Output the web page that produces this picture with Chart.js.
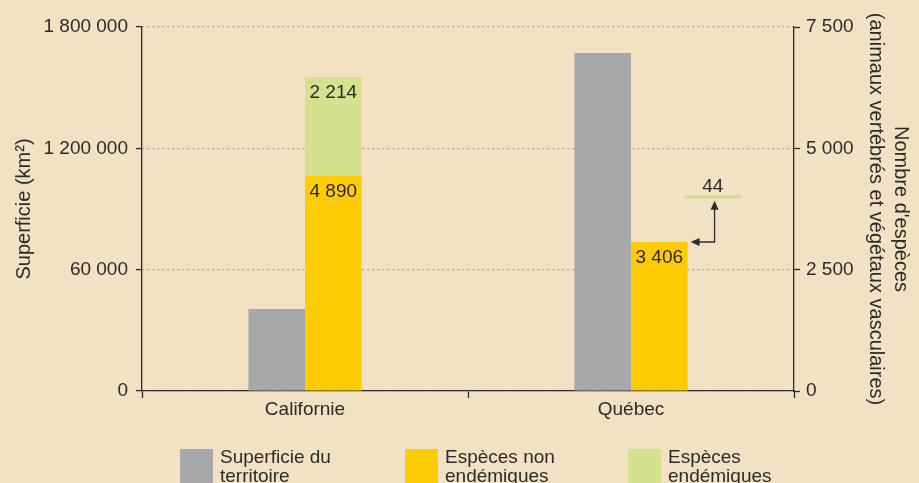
<!DOCTYPE html>
<html lang="fr">
<head>
<meta charset="utf-8">
<script src="https://cdn.jsdelivr.net/npm/chart.js@4"></script>
<style>
  html, body { margin: 0; padding: 0; background: #F2E1C2; }
  #wrap { width: 919px; height: 483px; position: relative; }
</style>
</head>
<body>
<div id="wrap"><canvas id="especesChart"></canvas></div>
<script>
// values (bar heights), labels as printed
const categories = ['Californie', 'Québec'];
const superficie = [405000, 1671000];
const nonEndemiques = [4430, 3070];
const endemiques = [2040, null];
const nonEndemiquesLabels = ['4 890', '3 406'];
const endemiquesLabels = ['2 214', '44'];
const quebecEndemiqueLevel = 4000;
const leftTickLabels = ['0', '60 000', '1 200 000', '1 800 000'];
const rightTickLabels = ['0', '2 500', '5 000', '7 500'];
const legendItems = [
    { color: '#A7A8AA', lines: ['Superficie du', 'territoire'] },
    { color: '#FFCB05', lines: ['Espèces non', 'endémiques'] },
    { color: '#D4E28E', lines: ['Espèces', 'endémiques'] }
];

const FONT = "'Liberation Sans', Arial, sans-serif";
const INK = '#2b2b2b';

Chart.defaults.font.family = FONT;
Chart.defaults.font.size = 19;
Chart.defaults.color = INK;

function arrowHead(ctx, x, y, dir) {
    // small filled triangle pointing "up" or "left"
    ctx.beginPath();
    if (dir === 'up') {
        ctx.moveTo(x, y);
        ctx.lineTo(x - 4, y + 9);
        ctx.lineTo(x + 4, y + 9);
    } else {
        ctx.moveTo(x, y);
        ctx.lineTo(x + 9, y - 4);
        ctx.lineTo(x + 9, y + 4);
    }
    ctx.closePath();
    ctx.fill();
}

const labelsPlugin = {
    id: 'labelsPlugin',
    afterDatasetsDraw(chart) {
        const ctx = chart.ctx;
        const orange = chart.getDatasetMeta(1).data;
        const green = chart.getDatasetMeta(2).data;
        ctx.save();
        ctx.font = '19px ' + FONT;
        ctx.fillStyle = INK;
        ctx.textAlign = 'center';
        ctx.textBaseline = 'alphabetic';
        orange.forEach((bar, i) => {
            ctx.fillText(nonEndemiquesLabels[i], bar.x, bar.y + 21);
        });
        green.forEach((bar, i) => {
            if (endemiques[i] == null) return;
            ctx.fillText(endemiquesLabels[i], bar.x, bar.y + 21);
        });

        // Québec : 44 endemic species shown beside the bar
        const qBar = orange[1];
        const y2 = chart.scales.y2;
        const lineY = y2.getPixelForValue(quebecEndemiqueLevel);
        const right = qBar.x + qBar.width / 2;
        ctx.strokeStyle = '#CFE08A';
        ctx.lineWidth = 3;
        ctx.beginPath();
        ctx.moveTo(right - 3, lineY);
        ctx.lineTo(right - 3 + qBar.width, lineY);
        ctx.stroke();
        ctx.fillText(endemiquesLabels[1], right - 3 + qBar.width / 2, lineY - 5);

        const ax = right + 27;
        ctx.strokeStyle = INK;
        ctx.lineWidth = 1.3;
        ctx.beginPath();
        ctx.moveTo(ax, lineY + 10);
        ctx.lineTo(ax, qBar.y);
        ctx.lineTo(right + 10, qBar.y);
        ctx.stroke();
        arrowHead(ctx, ax, lineY + 4, 'up');
        arrowHead(ctx, right + 3, qBar.y, 'left');

        // legend
        ctx.textAlign = 'left';
        ctx.font = '19px ' + FONT;
        const xs = [180, 405, 628];
        legendItems.forEach((item, i) => {
            ctx.fillStyle = item.color;
            ctx.fillRect(xs[i], 449, 33, 34);
            ctx.fillStyle = INK;
            item.lines.forEach((t, j) => ctx.fillText(t, xs[i] + 40, 463 + j * 19));
        });
        ctx.restore();
    }
};

new Chart(document.getElementById('especesChart'), {
    type: 'bar',
    data: {
        labels: categories,
        datasets: [
            {
                label: 'Superficie du territoire',
                data: superficie,
                backgroundColor: '#A7A8AA',
                yAxisID: 'y',
                stack: 'surface'
            },
            {
                label: 'Espèces non endémiques',
                data: nonEndemiques,
                backgroundColor: '#FFCB05',
                yAxisID: 'y2',
                stack: 'especes'
            },
            {
                label: 'Espèces endémiques',
                data: endemiques,
                backgroundColor: '#D4E28E',
                yAxisID: 'y2',
                stack: 'especes'
            }
        ]
    },
    options: {
        responsive: true,
        maintainAspectRatio: false,
        animation: false,
        categoryPercentage: 0.347,
        barPercentage: 1.0,
        layout: { padding: { top: 27, left: 0, right: 0, bottom: 0 } },
        plugins: {
            legend: { display: false },
            tooltip: { enabled: false }
        },
        scales: {
            x: {
                grid: {
                    offset: true,
                    drawOnChartArea: false,
                    drawTicks: true,
                    tickLength: 7,
                    tickColor: INK,
                    tickWidth: 1.3
                },
                border: { color: INK, width: 1.3 },
                ticks: { padding: 0, color: INK },
                afterFit(scale) { scale.height = 92; }
            },
            y: {
                position: 'left',
                min: 0,
                max: 1800000,
                grid: {
                    color: '#A9A9A9',
                    lineWidth: 1.2,
                    drawTicks: true,
                    tickLength: 6,
                    tickColor: INK,
                    tickWidth: 1.3
                },
                border: { color: INK, width: 1.3, dash: [2, 3] },
                ticks: {
                    stepSize: 600000,
                    padding: 8,
                    color: INK,
                    callback: (v, i) => leftTickLabels[i]
                },
                title: {
                    display: true,
                    text: 'Superficie (km²)',
                    color: INK,
                    font: { size: 20 },
                    padding: { top: 12, bottom: 0 }
                },
                afterFit(scale) { scale.width = 142; }
            },
            y2: {
                position: 'right',
                min: 0,
                max: 7500,
                grid: {
                    drawOnChartArea: false,
                    drawTicks: true,
                    tickLength: 6,
                    tickColor: INK,
                    tickWidth: 1.3
                },
                border: { color: INK, width: 1.3 },
                ticks: {
                    stepSize: 2500,
                    padding: 6,
                    color: INK,
                    callback: (v, i) => rightTickLabels[i]
                },
                title: {
                    display: true,
                    text: ["Nombre d'espèces", '(animaux vertébrés et végétaux vasculaires)'],
                    color: INK,
                    font: { size: 20, lineHeight: 1.25 },
                    padding: { top: 6, bottom: 0 }
                },
                afterFit(scale) { scale.width = 125; }
            }
        }
    },
    plugins: [labelsPlugin]
});
</script>
</body>
</html>
